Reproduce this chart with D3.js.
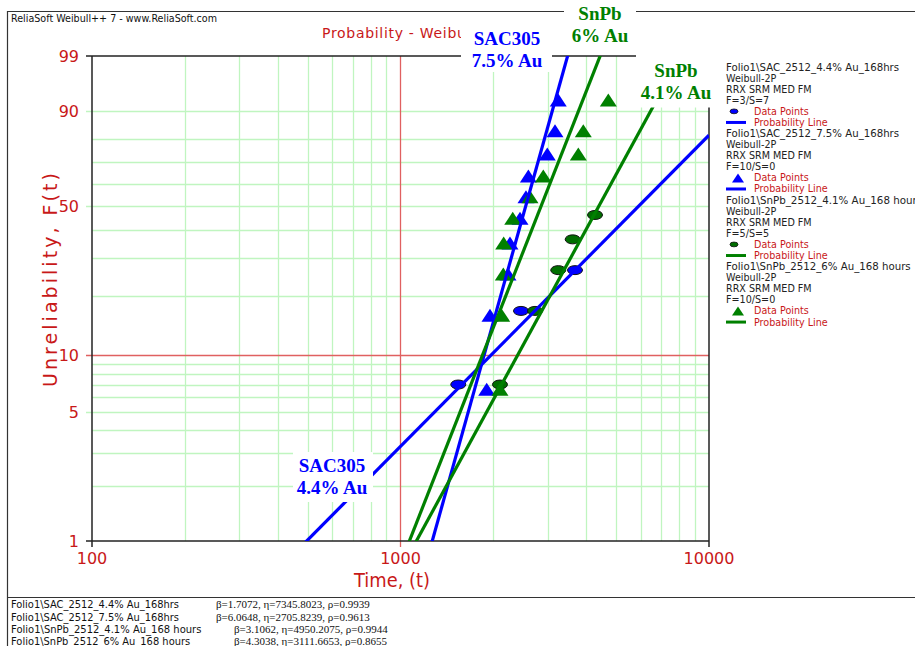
<!DOCTYPE html>
<html>
<head>
<meta charset="utf-8">
<script src="https://cdn.jsdelivr.net/npm/d3@7/dist/d3.min.js"></script>
<style>
  html, body { margin: 0; padding: 0; background: #fff; }
  svg { display: block; }
</style>
</head>
<body>
<svg id="chart" width="915" height="646"></svg>
<script>
// ---- data -------------------------------------------------------------
const seriesNames = [
  "Folio1\\SAC_2512_4.4% Au_168hrs",
  "Folio1\\SAC_2512_7.5% Au_168hrs",
  "Folio1\\SnPb_2512_4.1% Au_168 hours",
  "Folio1\\SnPb_2512_6% Au_168 hours"
];
const seriesCounts = ["F=3/S=7", "F=10/S=0", "F=5/S=5", "F=10/S=0"];
const seriesColors = ["#0000ff", "#0000ff", "#008000", "#008000"];
const seriesMarkers = ["ellipse", "triangle", "ellipse", "triangle"];

// Weibull-2P fit parameters
const betas = [1.7072, 6.0648, 3.1062, 4.3038];
const etas = [7345.8023, 2705.8239, 4950.2075, 3111.6653];
const rhos = [0.9939, 0.9613, 0.9944, 0.8655];

// failure times (hours) and unreliability (%)
const sac44Times = [1539, 2458, 3678];
const sac44Unrel = [7.0, 16.8, 26.5];
const sac75Times = [1903, 1950, 2231, 2264, 2440, 2551, 2597, 2991, 3168, 3246];
const sac75Unrel = [6.6, 16.0, 25.4, 35.2, 44.7, 54.1, 63.6, 73.7, 83.3, 92.9];
const snpb41Times = [2101, 2729, 3246, 3615, 4271];
const snpb41Unrel = [7.0, 16.8, 26.5, 36.5, 46.1];
const snpb6Times = [2101, 2128, 2154, 2160, 2311, 2629, 2903, 3770, 3913, 4717];
const snpb6Unrel = [6.6, 16.0, 25.4, 35.2, 44.7, 54.1, 63.6, 73.7, 83.3, 92.9];

const seriesTimes = [sac44Times, sac75Times, snpb41Times, snpb6Times];
const seriesUnrel = [sac44Unrel, sac75Unrel, snpb41Unrel, snpb6Unrel];

// axis ticks and grid
const yTickLabels = [99, 90, 50, 10, 5, 1];
const yGridValues = [2, 3, 4, 5, 6, 7, 8, 9, 20, 30, 40, 50, 60, 70, 80, 90];
const yRedValue = 10;
const xTickLabels = [100, 1000, 10000];
const xGridValues = [200, 300, 400, 500, 600, 700, 800, 900,
                     2000, 3000, 4000, 5000, 6000, 7000, 8000, 9000];
const xRedValue = 1000;

// in-plot series annotations
const annotLines = [["SAC305", "7.5% Au"], ["SnPb", "6% Au"], ["SnPb", "4.1% Au"], ["SAC305", "4.4% Au"]];
const annotColors = ["#0000ff", "#008000", "#008000", "#0000ff"];

// ---- layout -----------------------------------------------------------
const svg = d3.select("#chart");
const L = 92, R = 709, T = 56, B = 541;
const RED = "#c81818";
const GRID = "#c0f5c0";
const GRIDRED = "#e06060";
const SANS = "'DejaVu Sans', Verdana, sans-serif";
const SERIF = "'Liberation Serif', 'Times New Roman', serif";

const x = d3.scaleLog().domain([100, 10000]).range([L, R]);
const wb = p => Math.log(-Math.log(1 - p / 100));     // Weibull probability transform
const yW = d3.scaleLinear().domain([wb(1), wb(99)]).range([B, T]);
const y = p => yW(wb(p));

// outer frame
svg.append("line").attr("x1", 7.5).attr("x2", 7.5).attr("y1", 11).attr("y2", 646)
  .attr("stroke", "#333").attr("stroke-width", 1.2);
svg.append("line").attr("x1", 7).attr("x2", 915).attr("y1", 11.5).attr("y2", 11.5)
  .attr("stroke", "#333").attr("stroke-width", 1.2);
svg.append("line").attr("x1", 7).attr("x2", 915).attr("y1", 597.5).attr("y2", 597.5)
  .attr("stroke", "#333").attr("stroke-width", 1.2);

svg.append("text").attr("x", 11).attr("y", 22)
  .attr("font-family", SANS).attr("font-size", 10).attr("fill", "#111")
  .attr("textLength", 206).attr("lengthAdjust", "spacingAndGlyphs")
  .text("ReliaSoft Weibull++ 7 - www.ReliaSoft.com");

svg.append("text").attr("x", 322).attr("y", 38)
  .attr("font-family", SANS).attr("font-size", 14).attr("fill", RED)
  .attr("letter-spacing", 0.7)
  .text("Probability - Weibull");

// ---- grid -------------------------------------------------------------
const grid = svg.append("g");
grid.selectAll("line.gy").data(yGridValues).join("line")
  .attr("x1", d => yTickLabels.includes(d) ? L - 6 : L).attr("x2", R)
  .attr("y1", d => Math.round(y(d)) + 0.5).attr("y2", d => Math.round(y(d)) + 0.5)
  .attr("stroke", GRID).attr("stroke-width", 1.3);
grid.selectAll("line.gx").data(xGridValues).join("line")
  .attr("y1", T).attr("y2", B)
  .attr("x1", d => Math.round(x(d)) + 0.5).attr("x2", d => Math.round(x(d)) + 0.5)
  .attr("stroke", GRID).attr("stroke-width", 1.3);
grid.append("line").attr("x1", L - 6).attr("x2", R)
  .attr("y1", Math.round(y(yRedValue)) + 0.5).attr("y2", Math.round(y(yRedValue)) + 0.5)
  .attr("stroke", GRIDRED).attr("stroke-width", 1.3);
grid.append("line").attr("y1", T).attr("y2", B + 6)
  .attr("x1", Math.round(x(xRedValue)) + 0.5).attr("x2", Math.round(x(xRedValue)) + 0.5)
  .attr("stroke", GRIDRED).attr("stroke-width", 1.3);

// ---- plot frame and ticks --------------------------------------------
const frame = svg.append("g").attr("stroke", "#222").attr("stroke-width", 1.5);
frame.append("line").attr("x1", L).attr("x2", R).attr("y1", T).attr("y2", T);
frame.append("line").attr("x1", R).attr("x2", R).attr("y1", T).attr("y2", B);
frame.append("line").attr("x1", L).attr("x2", L).attr("y1", T).attr("y2", B + 6);
frame.append("line").attr("x1", L - 6).attr("x2", R).attr("y1", B).attr("y2", B);
frame.append("line").attr("x1", L - 6).attr("x2", L).attr("y1", T).attr("y2", T);
frame.append("line").attr("x1", R).attr("x2", R).attr("y1", B).attr("y2", B + 6);

svg.append("g").selectAll("text").data(yTickLabels).join("text")
  .attr("x", 79).attr("y", d => y(d) + 6)
  .attr("text-anchor", "end")
  .attr("font-family", SANS).attr("font-size", 16).attr("fill", RED)
  .text(d => d);

svg.append("g").selectAll("text").data(xTickLabels).join("text")
  .attr("x", d => x(d)).attr("y", 564)
  .attr("text-anchor", "middle")
  .attr("font-family", SANS).attr("font-size", 16).attr("fill", RED)
  .text(d => d);

svg.append("text").attr("x", 392).attr("y", 587)
  .attr("text-anchor", "middle")
  .attr("font-family", SANS).attr("font-size", 19).attr("fill", RED)
  .attr("textLength", 76).attr("lengthAdjust", "spacingAndGlyphs")
  .text("Time, (t)");

svg.append("text")
  .attr("transform", "translate(57,280) rotate(-90)")
  .attr("text-anchor", "middle")
  .attr("font-family", SANS).attr("font-size", 19).attr("fill", RED)
  .attr("textLength", 214).attr("lengthAdjust", "spacing")
  .text("Unreliability, F(t)");

// ---- data points ------------------------------------------------------
svg.append("clipPath").attr("id", "plotClip")
  .append("rect").attr("x", L).attr("y", T).attr("width", R - L).attr("height", B - T);

const triPath = (w, h) => `M0,${-h / 2}L${w / 2},${h / 2}L${-w / 2},${h / 2}Z`;

const pts = svg.append("g").attr("clip-path", "url(#plotClip)");
seriesNames.forEach((name, i) => {
  const data = seriesTimes[i].map((t, k) => ({ t, p: seriesUnrel[i][k] }));
  const g = pts.append("g");
  if (seriesMarkers[i] === "ellipse") {
    g.selectAll("ellipse").data(data).join("ellipse")
      .attr("cx", d => x(d.t)).attr("cy", d => y(d.p))
      .attr("rx", 7.5).attr("ry", 4.5)
      .attr("fill", i === 0 ? "#0000ff" : "#006e00")
      .attr("stroke", "#111").attr("stroke-width", 1);
  } else {
    g.selectAll("path").data(data).join("path")
      .attr("transform", d => `translate(${x(d.t)},${y(d.p)})`)
      .attr("d", triPath(17, 13))
      .attr("fill", seriesColors[i]);
  }
});

// ---- fitted probability lines: w = beta * (ln t - ln eta) ---------------
const lines = svg.append("g").attr("clip-path", "url(#plotClip)");
seriesNames.forEach((name, i) => {
  const ends = [100, 10000].map(t => ({ t, w: betas[i] * (Math.log(t) - Math.log(etas[i])) }));
  lines.append("path")
    .attr("d", d3.line().x(d => x(d.t)).y(d => yW(d.w))(ends))
    .attr("fill", "none").attr("stroke", seriesColors[i]).attr("stroke-width", 3.2);
});

// ---- annotation labels with white backing ------------------------------
const annotBoxes = [
  { x0: 461, x1: 552, y0: 26, y1: 72, cx: 507, b1: 45, b2: 66.5 },
  { x0: 564, x1: 636, y0: 0, y1: 50, cx: 600, b1: 20, b2: 42 },
  { x0: 636, x1: 722, y0: 50, y1: 107.5, cx: 676, b1: 77, b2: 99 },
  { x0: 293, x1: 373, y0: 452, y1: 502, cx: 332, b1: 472, b2: 493.5 }
];
annotBoxes.forEach((b, i) => {
  svg.append("rect").attr("x", b.x0).attr("y", b.y0)
    .attr("width", b.x1 - b.x0).attr("height", b.y1 - b.y0).attr("fill", "#fff");
  [b.b1, b.b2].forEach((by, k) => {
    svg.append("text").attr("x", b.cx).attr("y", by)
      .attr("text-anchor", "middle")
      .attr("font-family", SERIF).attr("font-weight", "bold").attr("font-size", 19)
      .attr("fill", annotColors[i])
      .text(annotLines[i][k]);
  });
});

// ---- legend -----------------------------------------------------------
const lg = svg.append("g");
const step = 11.09;
let row = 0;
const rowY = r => 70.5 + r * step;
seriesNames.forEach((name, i) => {
  [name, "Weibull-2P", "RRX SRM MED FM", seriesCounts[i]].forEach((s, k) => {
    const t = lg.append("text").attr("x", 726).attr("y", rowY(row))
      .attr("font-family", SANS).attr("font-size", 9.6).attr("fill", "#222").text(s);
    if (k === 0) t.attr("textLength", name.length * 5.77).attr("lengthAdjust", "spacingAndGlyphs");
    row++;
  });
  // data point symbol
  const sy = rowY(row) - 3.5;
  if (seriesMarkers[i] === "ellipse") {
    lg.append("ellipse").attr("cx", 734).attr("cy", sy).attr("rx", 4).attr("ry", 2.4)
      .attr("fill", i === 0 ? "#0000ff" : "#006e00").attr("stroke", "#111").attr("stroke-width", 0.8);
  } else {
    lg.append("path").attr("transform", `translate(738,${sy})`).attr("d", triPath(12, 9))
      .attr("fill", seriesColors[i]);
  }
  lg.append("text").attr("x", 754).attr("y", rowY(row))
    .attr("font-family", SANS).attr("font-size", 9.6).attr("fill", RED).text("Data Points");
  row++;
  const ly = rowY(row) - 3.5;
  lg.append("line").attr("x1", 726).attr("x2", 746).attr("y1", ly).attr("y2", ly)
    .attr("stroke", seriesColors[i]).attr("stroke-width", 3);
  lg.append("text").attr("x", 754).attr("y", rowY(row))
    .attr("font-family", SANS).attr("font-size", 9.6).attr("fill", RED).text("Probability Line");
  row++;
});

// ---- parameter footer -------------------------------------------------
const foot = svg.append("g");
const footBase = [608, 620.5, 633, 645];
const paramX = [216, 216, 234, 234];
seriesNames.forEach((name, i) => {
  foot.append("text").attr("x", 11).attr("y", footBase[i])
    .attr("font-family", SANS).attr("font-size", 9.6).attr("fill", "#111")
    .attr("textLength", name.length * 5.6).attr("lengthAdjust", "spacingAndGlyphs")
    .text(name);
  foot.append("text").attr("x", paramX[i]).attr("y", footBase[i])
    .attr("font-family", SERIF).attr("font-size", 11).attr("fill", "#111")
    .text(`β=${betas[i].toFixed(4)}, η=${etas[i].toFixed(4)}, ρ=${rhos[i].toFixed(4)}`);
});
</script>
</body>
</html>
